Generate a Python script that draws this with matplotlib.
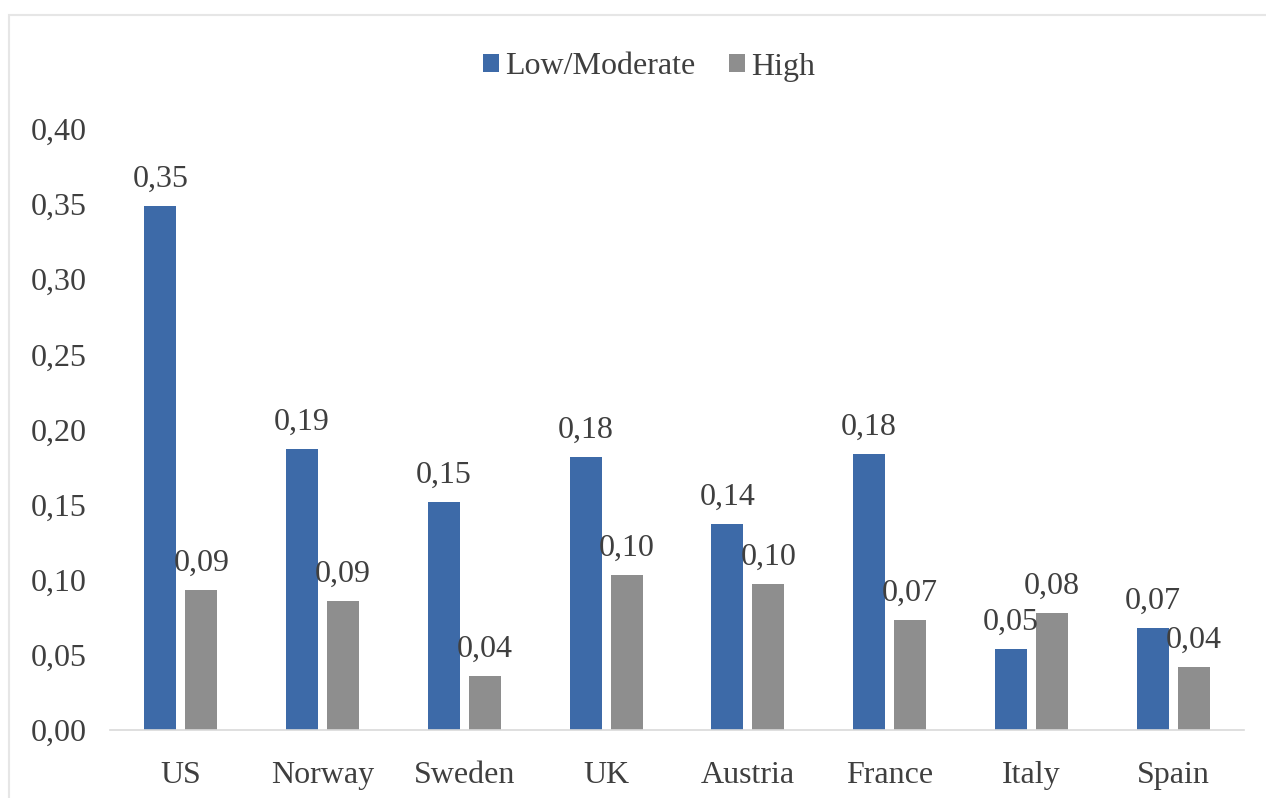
import numpy as np
import matplotlib.pyplot as plt
from matplotlib.patches import Rectangle

azul = "#3D6AA8"
gris = "#8E8E8E"
texto = "#3F3F3F"

paises = ["US", "Norway", "Sweden", "UK", "Austria", "France", "Italy", "Spain"]
low_mod = [0.349, 0.187, 0.152, 0.182, 0.137, 0.184, 0.054, 0.068]
high = [0.093, 0.086, 0.036, 0.103, 0.097, 0.073, 0.078, 0.042]
yticks = [0.00, 0.05, 0.10, 0.15, 0.20, 0.25, 0.30, 0.35, 0.40]

plt.rcParams['font.family'] = ['Liberation Serif', 'DejaVu Serif']

fig = plt.figure(figsize=(12.66, 7.98), dpi=100)
# marco gris claro
fig.patches.append(Rectangle((9/1266, -0.1), 1.2, 1 - 15/798 + 0.1, transform=fig.transFigure,
                             fill=False, edgecolor="#E6E6E6", linewidth=1.5))
ax = fig.add_axes([0.0869, 0.0852, 0.8957, 0.7531])

x = np.arange(len(paises))
w = 0.226
d = 0.145
b1 = ax.bar(x - d, low_mod, w, color=azul, label="Low/Moderate")
b2 = ax.bar(x + d, high, w, color=gris, label="High")

for barras, vals in ((b1, low_mod), (b2, high)):
    for r, v in zip(barras, vals):
        ax.text(r.get_x() + r.get_width()/2, v + 0.008, f"{v:.2f}".replace(".", ","),
                ha="center", va="bottom", fontsize=23, color=texto)

ax.set_xlim(-0.5, 7.5)
ax.set_ylim(0, 0.40)
ax.set_yticks(yticks)
ax.set_yticklabels([f"{t:.2f}".replace(".", ",") for t in yticks])
ax.set_xticks(x)
ax.set_xticklabels(paises)
ax.tick_params(axis="both", length=0, labelsize=23, labelcolor=texto)
ax.tick_params(axis="y", pad=17)
ax.tick_params(axis="x", pad=22)
for s in ["top", "right", "left"]:
    ax.spines[s].set_visible(False)
ax.spines["bottom"].set_color("#D9D9D9")
ax.spines["bottom"].set_linewidth(1.2)

fig.legend(loc="center", bbox_to_anchor=(0.5126, 1 - 67/798), ncol=2, frameon=False,
           fontsize=23, handlelength=0.5, handleheight=0.5, handletextpad=0.2,
           columnspacing=1.05, labelcolor=texto)

fig.savefig("out.png", dpi=100)
